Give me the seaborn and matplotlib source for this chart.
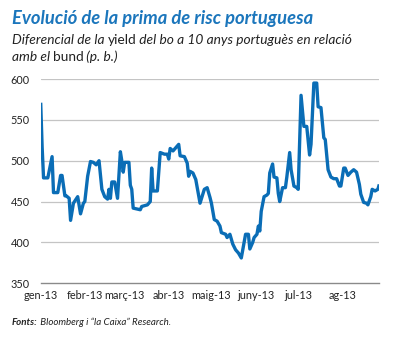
import matplotlib
matplotlib.use("Agg")
import matplotlib.pyplot as plt
import pandas as pd
import seaborn as sns

# ---- data ----
dates = [
    "2013-01-01", "2013-01-02", "2013-01-03", "2013-01-06", "2013-01-09", "2013-01-10",
    "2013-01-13", "2013-01-15", "2013-01-16", "2013-01-18", "2013-01-19", "2013-01-21",
    "2013-01-22", "2013-01-24", "2013-01-27", "2013-01-29", "2013-01-31",
    "2013-02-01", "2013-02-03", "2013-02-05", "2013-02-07", "2013-02-09", "2013-02-11",
    "2013-02-13", "2013-02-15", "2013-02-17", "2013-02-18", "2013-02-19", "2013-02-20",
    "2013-02-22", "2013-02-24", "2013-02-26", "2013-02-27", "2013-02-28",
    "2013-03-01", "2013-03-04", "2013-03-05", "2013-03-06", "2013-03-07", "2013-03-12",
    "2013-03-13", "2013-03-17", "2013-03-19", "2013-03-20", "2013-03-21", "2013-03-24",
    "2013-03-26", "2013-03-29", "2013-03-31",
    "2013-04-01", "2013-04-02", "2013-04-04", "2013-04-06", "2013-04-08", "2013-04-09",
    "2013-04-12", "2013-04-14", "2013-04-15", "2013-04-16", "2013-04-18", "2013-04-20",
    "2013-04-23", "2013-04-26", "2013-04-28", "2013-04-30",
    "2013-05-01", "2013-05-03", "2013-05-05", "2013-05-07", "2013-05-08", "2013-05-11",
    "2013-05-12", "2013-05-14", "2013-05-16", "2013-05-18", "2013-05-20", "2013-05-22",
    "2013-05-24", "2013-05-25", "2013-05-27", "2013-05-28", "2013-05-30", "2013-05-31",
    "2013-06-02", "2013-06-03", "2013-06-04", "2013-06-05", "2013-06-07", "2013-06-09",
    "2013-06-10", "2013-06-11", "2013-06-13", "2013-06-14", "2013-06-16", "2013-06-17",
    "2013-06-18", "2013-06-20", "2013-06-22", "2013-06-23", "2013-06-25", "2013-06-26",
    "2013-06-28", "2013-06-30",
    "2013-07-01", "2013-07-03", "2013-07-05", "2013-07-07", "2013-07-09", "2013-07-10",
    "2013-07-12", "2013-07-14", "2013-07-15", "2013-07-17", "2013-07-19", "2013-07-20",
    "2013-07-22", "2013-07-24", "2013-07-26", "2013-07-28", "2013-07-30", "2013-07-31",
    "2013-08-02", "2013-08-03", "2013-08-05", "2013-08-07", "2013-08-09", "2013-08-11",
    "2013-08-13", "2013-08-14", "2013-08-16", "2013-08-18", "2013-08-19", "2013-08-21",
    "2013-08-22", "2013-08-24", "2013-08-26", "2013-08-27",
]
spread = [
    571, 517, 479, 479, 505, 461,
    461, 482, 482, 457, 457, 454,
    427, 448, 456, 435, 448,
    450, 481, 499, 498, 495, 500,
    465, 456, 453, 465, 454, 474,
    474, 454, 511, 500, 486,
    498, 498, 470, 465, 442, 440,
    444, 446, 450, 491, 463, 463,
    510, 508, 508,
    502, 515, 512, 516, 520, 506,
    505, 497, 481, 487, 485, 477,
    448, 465, 467, 455,
    448, 428, 426, 420, 412, 410,
    406, 410, 398, 391, 387, 381,
    400, 410, 410, 392, 400, 406,
    410, 420, 414, 438, 456, 458,
    460, 485, 496, 480, 479, 460,
    450, 467, 467, 480, 510, 489,
    469, 467,
    465, 580, 542, 542, 507, 520,
    595, 595, 566, 565, 528, 526,
    489, 480, 478, 478, 469, 469,
    491, 491, 482, 486, 489, 486,
    471, 459, 449, 448, 446, 456,
    465, 463, 465, 471,
]
month_ticks = ["2013-01-01", "2013-02-01", "2013-03-01", "2013-04-01",
               "2013-05-01", "2013-06-01", "2013-07-01", "2013-08-01"]
month_labels = ["gen-13", "febr-13", "març-13", "abr-13",
                "maig-13", "juny-13", "jul-13", "ag-13"]
y_ticks = [350, 400, 450, 500, 550, 600]

title = "Evolució de la prima de risc portuguesa"
subtitle_line1 = [("Diferencial de la ", "italic"), ("yield", "normal"),
                  (" del bo a 10 anys portuguès en relació", "italic")]
subtitle_line2 = [("amb el ", "italic"), ("bund", "normal"), (" (p. b.)", "italic")]
source = [("Fonts:", "bold"), (" Bloomberg i \u201cla Caixa\u201d Research.", "italic")]

# ---- styling ----
sns.set_theme(style="white")
FONT = ["Lato", "DejaVu Sans"]
plt.rcParams["font.family"] = FONT

W, H = 395, 338
BLUE = "#0a6db6"
TITLE_BLUE = "#1b76bc"
TEXT = "#222222"

df = pd.DataFrame({"date": pd.to_datetime(dates), "spread": spread})

fig = plt.figure(figsize=(W / 100, H / 100), dpi=100)
fig.patch.set_facecolor("white")
left, right, top, bottom = 40.7, 379.3, 79.0, 283.3
ax = fig.add_axes([left / W, 1 - bottom / H, (right - left) / W, (bottom - top) / H])

sns.lineplot(data=df, x="date", y="spread", ax=ax, color=BLUE, linewidth=2.4,
             solid_joinstyle="round", solid_capstyle="butt")

ax.set_xlim(df["date"].iloc[0], df["date"].iloc[-1])
ax.set_ylim(350, 600)
ax.set_yticks(y_ticks)
ax.set_yticklabels([str(v) for v in y_ticks])
ax.set_xticks(pd.to_datetime(month_ticks))
ax.set_xticklabels(month_labels)
ax.set_xlabel("")
ax.set_ylabel("")

for v in y_ticks[1:]:
    ax.axhline(v, color="#c4c4c4", linewidth=0.9, zorder=0)

for s in ["left", "right", "top"]:
    ax.spines[s].set_visible(False)
ax.spines["bottom"].set_color("#8a8a8a")
ax.spines["bottom"].set_linewidth(1.0)

ax.tick_params(axis="x", direction="in", length=3.5, width=0.9, color="#8a8a8a",
               pad=5, labelsize=7.8, labelcolor=TEXT)
ax.tick_params(axis="y", length=0, pad=8, labelsize=7.8, labelcolor=TEXT)
ax.set_facecolor("white")

renderer = fig.canvas.get_renderer()


def rich_line(x_px, y_px, segments, size, color):
    x = x_px
    for txt, kind in segments:
        if kind == "bold":
            style, weight = "italic", "bold"
        elif kind == "italic":
            style, weight = "italic", "normal"
        else:
            style, weight = "normal", "normal"
        t = fig.text(x / W, 1 - y_px / H, txt, fontsize=size, style=style,
                     weight=weight, color=color, va="baseline", ha="left",
                     family=FONT)
        x += t.get_window_extent(renderer).width - (1.0 if kind == "normal" else 0.0)


fig.text(12 / W, 1 - 23.7 / H, title, fontsize=13.2, weight="bold", style="italic",
         color=TITLE_BLUE, va="baseline", ha="left", family=FONT)
rich_line(12, 44.2, subtitle_line1, 9.9, TEXT)
rich_line(12, 61.0, subtitle_line2, 9.9, TEXT)

rich_line(12, 325, source, 7.0, TEXT)

fig.savefig("out.png", dpi=100)
